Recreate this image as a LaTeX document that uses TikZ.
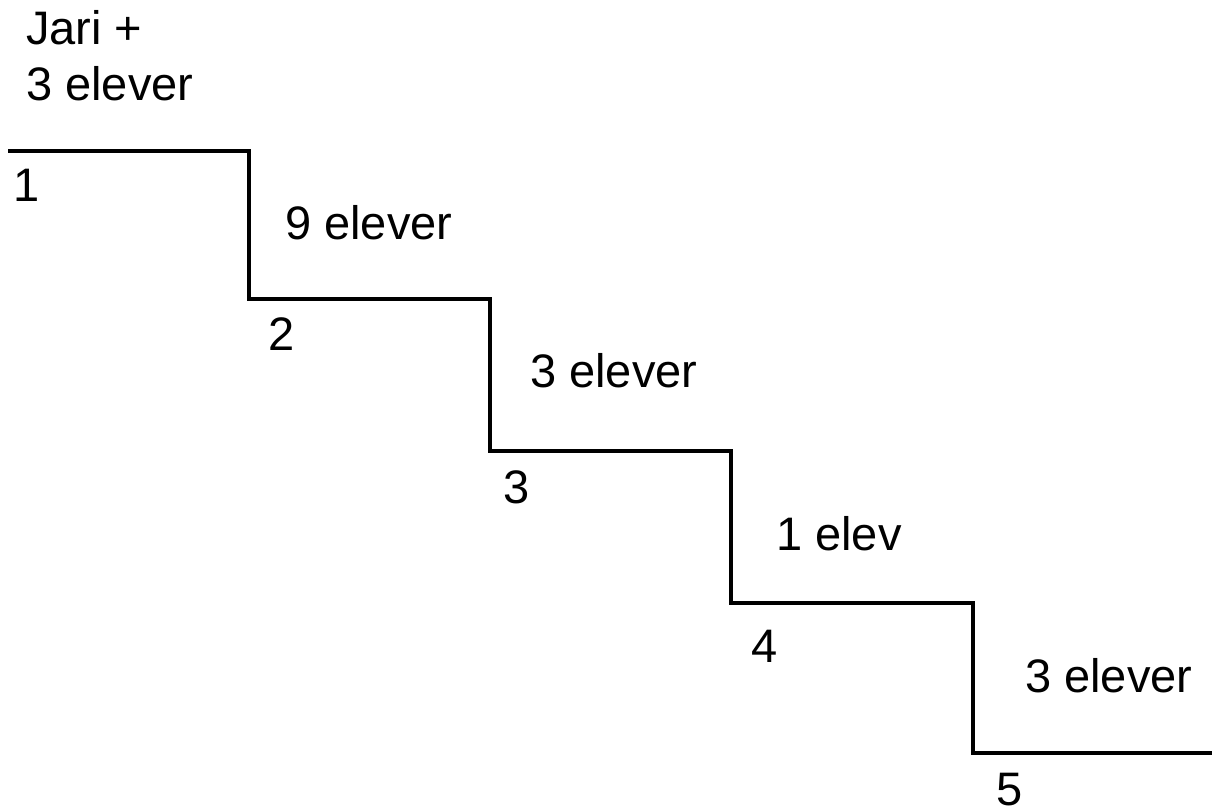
\documentclass[tikz,border=0pt]{standalone}
\usepackage{fontspec}
\setmainfont{Liberation Sans}
\begin{document}
\begin{tikzpicture}[x=1pt,y=-1pt,
  lbl/.style={anchor=base west,inner sep=0pt,font=\fontsize{47}{56}\selectfont},
  stair/.style={line width=3.4pt,line join=miter}]
\useasboundingbox (0,0) rectangle (1218,809);
\coordinate (s0) at (8,151);
\coordinate (s1) at (249,151);
\coordinate (s2) at (249,299);
\coordinate (s3) at (490,299);
\coordinate (s4) at (490,451);
\coordinate (s5) at (731,451);
\coordinate (s6) at (731,603);
\coordinate (s7) at (973,603);
\coordinate (s8) at (973,753);
\coordinate (s9) at (1212,753);
\draw[stair] (s0) -- (s1) -- (s2) -- (s3) -- (s4) -- (s5) -- (s6) -- (s7) -- (s8) -- (s9);
\node[lbl] (t0a) at (26,44) {Jari +};
\node[lbl] (t0b) at (26,100) {3 elever};
\node[lbl] (n1) at (13,201) {1};
\node[lbl] (t1) at (285,239) {9 elever};
\node[lbl] (n2) at (268,350) {2};
\node[lbl] (t2) at (530,387) {3 elever};
\node[lbl] (n3) at (503,503) {3};
\node[lbl] (t3) at (776,550) {1 elev};
\node[lbl] (n4) at (751,662) {4};
\node[lbl] (t4) at (1025,692) {3 elever};
\node[lbl] (n5) at (996,805) {5};
\end{tikzpicture}
\end{document}
